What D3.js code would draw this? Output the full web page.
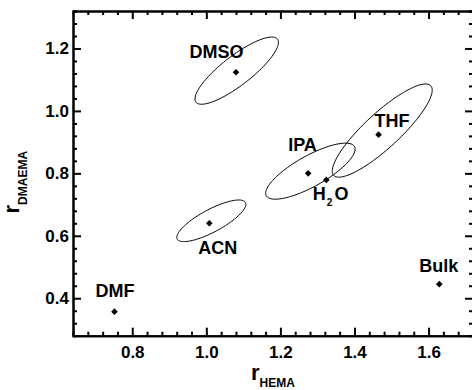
<!DOCTYPE html>
<html>
<head>
<meta charset="utf-8">
<script src="https://cdn.jsdelivr.net/npm/d3@7"></script>
<style>
  body { margin: 0; background: #fff; }
  svg { display: block; }
  text { font-family: "Liberation Sans", Arial, sans-serif; font-weight: bold; fill: #000; }
</style>
</head>
<body>
<div id="chart"></div>
<script>
// reactivity ratios per solvent
const solvents = ["DMF", "ACN", "DMSO", "IPA", "H2O", "THF", "Bulk"];
const rHEMA    = [0.752, 1.008, 1.080, 1.275, 1.324, 1.465, 1.629];
const rDMAEMA  = [0.357, 0.640, 1.124, 0.800, 0.779, 0.924, 0.445];

// 95% joint confidence ellipses: centre + the two half-axis vectors (data units)
const ellipseNames  = ["DMSO", "IPA", "THF", "ACN"];
const ellipseCentre = [[1.082, 1.129], [1.281, 0.807], [1.475, 0.937], [1.0135, 0.648]];
const ellipseMajor  = [[0.110, 0.101], [0.119, 0.0788], [0.131, 0.1435], [0.0921, 0.0586]];
const ellipseMinor  = [[0.0243, -0.0372], [0.0203, -0.0430], [0.0322, -0.0411], [0.0145, -0.0318]];

const xTicks = [0.8, 1.0, 1.2, 1.4, 1.6];
const yTicks = [0.4, 0.6, 0.8, 1.0, 1.2];
const xDomain = [0.64, 1.72];
const yDomain = [0.28, 1.32];

// label placement relative to the point, px
const labelOffset = {
  DMF: [-19, -14.5], ACN: [-11, 31], DMSO: [-46.5, -14], IPA: [-20, -22],
  H2O: [-13.5, 20.5], THF: [-4, -8], Bulk: [-20, -12]
};

const width = 472, height = 390;
const x = d3.scaleLinear().domain(xDomain).range([73, 473]);
const y = d3.scaleLinear().domain(yDomain).range([335.7, 11]);

const svg = d3.select("#chart").append("svg")
  .attr("width", width).attr("height", height);

const minorX = d3.range(0.68, 1.7201, 0.04).filter(v => !xTicks.some(t => Math.abs(t - v) < 1e-6));
const minorY = d3.range(0.32, 1.3201, 0.04).filter(v => !yTicks.some(t => Math.abs(t - v) < 1e-6));

function styleAxis(g) {
  g.select(".domain").attr("stroke", "#000").attr("stroke-width", 2);
  g.selectAll(".tick line").attr("stroke", "#000").attr("stroke-width", 2);
  g.selectAll(".tick text").style("font-size", "17px").style("font-weight", "bold")
    .style("font-family", '"Liberation Sans", Arial, sans-serif');
}

// minor ticks first
svg.append("g").attr("transform", `translate(0,${y.range()[0]})`)
  .call(d3.axisBottom(x).tickValues(minorX).tickSize(-4).tickFormat(""))
  .call(styleAxis);
svg.append("g").attr("transform", `translate(0,${y.range()[1]})`)
  .call(d3.axisTop(x).tickValues(minorX).tickSize(-4).tickFormat(""))
  .call(styleAxis);
svg.append("g").attr("transform", `translate(${x.range()[0]},0)`)
  .call(d3.axisLeft(y).tickValues(minorY).tickSize(-4).tickFormat(""))
  .call(styleAxis);
svg.append("g").attr("transform", `translate(${x.range()[1]},0)`)
  .call(d3.axisRight(y).tickValues(minorY).tickSize(-4).tickFormat(""))
  .call(styleAxis);

// major ticks
svg.append("g").attr("transform", `translate(0,${y.range()[0]})`)
  .call(d3.axisBottom(x).tickValues(xTicks).tickSize(-8).tickSizeOuter(0).tickPadding(10).tickFormat(d3.format(".1f")))
  .call(styleAxis);
svg.append("g").attr("transform", `translate(0,${y.range()[1]})`)
  .call(d3.axisTop(x).tickValues(xTicks).tickSize(-8).tickSizeOuter(0).tickFormat(""))
  .call(styleAxis);
svg.append("g").attr("transform", `translate(${x.range()[0]},0)`)
  .call(d3.axisLeft(y).tickValues(yTicks).tickSize(-8).tickSizeOuter(0).tickPadding(4).tickFormat(d3.format(".1f")))
  .call(styleAxis);
svg.append("g").attr("transform", `translate(${x.range()[1]},0)`)
  .call(d3.axisRight(y).tickValues(yTicks).tickSize(-8).tickSizeOuter(0).tickFormat(""))
  .call(styleAxis);

// ellipses
const steps = d3.range(0, 361, 3).map(d => d * Math.PI / 180);
const line = d3.line().x(p => x(p[0])).y(p => y(p[1])).curve(d3.curveLinearClosed);
ellipseNames.forEach((name, i) => {
  const [cx, cy] = ellipseCentre[i], [ux, uy] = ellipseMajor[i], [vx, vy] = ellipseMinor[i];
  const pts = steps.map(t => [cx + ux * Math.cos(t) + vx * Math.sin(t),
                              cy + uy * Math.cos(t) + vy * Math.sin(t)]);
  svg.append("path").attr("d", line(pts))
    .attr("fill", "none").attr("stroke", "#000").attr("stroke-width", 1);
});

// points
const diamond = d3.symbol().type(d3.symbolSquare).size(22);
solvents.forEach((s, i) => {
  svg.append("path").attr("d", diamond())
    .attr("transform", `translate(${x(rHEMA[i])},${y(rDMAEMA[i])}) rotate(45)`)
    .attr("fill", "#000");

  const [dx, dy] = labelOffset[s];
  const t = svg.append("text")
    .attr("x", x(rHEMA[i]) + dx).attr("y", y(rDMAEMA[i]) + dy)
    .style("font-size", "18px");
  if (s === "H2O") {
    t.append("tspan").text("H");
    t.append("tspan").text("2").style("font-size", "10px").attr("dx", 1).attr("dy", 6);
    t.append("tspan").text("O").attr("dx", 2).attr("dy", -6);
  } else {
    t.text(s);
  }
});

// axis titles
const xt = svg.append("text")
  .attr("x", (x.range()[0] + x.range()[1]) / 2).attr("y", 380)
  .attr("text-anchor", "middle");
xt.append("tspan").text("r").style("font-size", "22px");
xt.append("tspan").text("HEMA").style("font-size", "12px").attr("dy", 7);

const yt = svg.append("text")
  .attr("transform", "translate(19.3,213.5) rotate(-90)");
yt.append("tspan").text("r").style("font-size", "22px");
yt.append("tspan").text("DMAEMA").style("font-size", "12px").attr("dy", 8);
</script>
</body>
</html>
